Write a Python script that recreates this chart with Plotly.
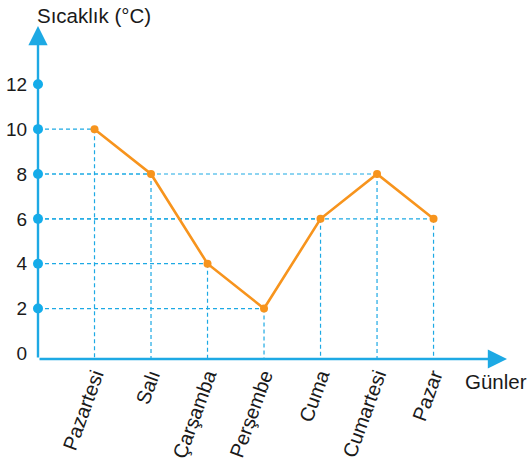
import plotly.graph_objects as go

# Daily temperatures for one week
days = ["Pazartesi", "Salı", "Çarşamba", "Perşembe", "Cuma", "Cumartesi", "Pazar"]
temps = [10, 8, 4, 2, 6, 8, 6]
y_ticks = [0, 2, 4, 6, 8, 10, 12]
y_title = "Sıcaklık (°C)"
x_title = "Günler"

BLUE = "#1DA9E4"
DOT = "#12ADEB"
ORANGE = "#F7941D"
TEXT = "#1a1a1a"
FONT = "Liberation Sans, Arial, Helvetica, sans-serif"

x_pos = list(range(1, len(days) + 1))
x0, y0 = 0, -0.25          # where the two axes meet
x_end, y_end = 8.3, 14.6   # arrow tips

fig = go.Figure()

# dashed guide lines from each point to both axes
for xi, yi in zip(x_pos, temps):
    fig.add_trace(go.Scatter(x=[x0, xi], y=[yi, yi], mode="lines",
                             line=dict(color=BLUE, width=1.2, dash="4px,3px"),
                             hoverinfo="skip", showlegend=False))
    fig.add_trace(go.Scatter(x=[xi, xi], y=[yi, y0], mode="lines",
                             line=dict(color=BLUE, width=1.2, dash="4px,3px"),
                             hoverinfo="skip", showlegend=False))

# temperature line
fig.add_trace(go.Scatter(x=x_pos, y=temps, mode="lines+markers",
                         line=dict(color=ORANGE, width=2.6),
                         marker=dict(color=ORANGE, size=8),
                         showlegend=False, cliponaxis=False))

# dots on the vertical axis
fig.add_trace(go.Scatter(x=[x0] * (len(y_ticks) - 1), y=y_ticks[1:], mode="markers",
                         marker=dict(color=DOT, size=10),
                         showlegend=False, cliponaxis=False))

# axes drawn as arrows
fig.add_annotation(x=x0, y=y_end, ax=x0, ay=y0, xref="x", yref="y", axref="x", ayref="y",
                   text="", showarrow=True, arrowhead=2, arrowsize=1.6, arrowwidth=2.4,
                   arrowcolor=BLUE, standoff=0)
fig.add_annotation(x=x_end, y=y0, ax=x0, ay=y0, xref="x", yref="y", axref="x", ayref="y",
                   text="", showarrow=True, arrowhead=2, arrowsize=1.6, arrowwidth=2.4,
                   arrowcolor=BLUE, standoff=0)

# axis titles
fig.add_annotation(x=-0.007, y=1.033, xref="paper", yref="paper", text=y_title, showarrow=False,
                   xanchor="left", yanchor="middle", font=dict(size=20.5, color=TEXT, family=FONT))
fig.add_annotation(x=0.977, y=-0.069, xref="paper", yref="paper", text=x_title, showarrow=False,
                   xanchor="center", yanchor="middle", font=dict(size=20.5, color=TEXT, family=FONT))

fig.update_layout(
    width=530, height=465,
    margin=dict(l=38, r=23, t=26, b=106, autoexpand=False),
    paper_bgcolor="white", plot_bgcolor="white",
    font=dict(family=FONT, size=19, color=TEXT),
    xaxis=dict(range=[x0, x_end], tickvals=x_pos, ticktext=days, tickangle=-70,
               showgrid=False, zeroline=False, showline=False, automargin=False,
               ticks="outside", ticklen=1, tickcolor="rgba(0,0,0,0)",
               ticklabelstandoff=-5, tickfont=dict(size=20)),
    yaxis=dict(range=[y0, y_end], tickvals=y_ticks, ticktext=[str(v) for v in y_ticks],
               showgrid=False, zeroline=False, showline=False, automargin=False,
               ticks="outside", ticklen=6, tickcolor="rgba(0,0,0,0)"),
)

fig.write_html("out.html")
